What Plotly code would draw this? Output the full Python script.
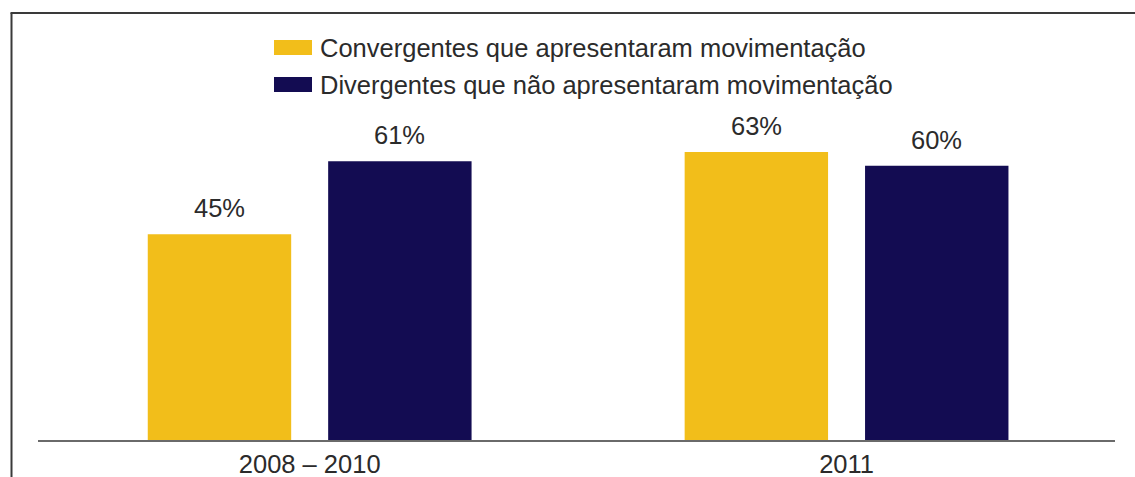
import plotly.graph_objects as go

# Data
categories = ["2008 – 2010", "2011"]
series_names = [
    "Convergentes que apresentaram movimentação",
    "Divergentes que não apresentaram movimentação",
]
convergentes = [45, 63]
divergentes = [61, 60]
colors = ["#F2BE1A", "#130C52"]

W, H = 1135, 477
M_L, M_R, M_T, M_B = 38, 20, 120, 37
PW, PH = W - M_L - M_R, H - M_T - M_B


def px_x(p):
    return (p - M_L) / PW


def px_y(p):
    return (H - M_B - p) / PH


FONT = "Liberation Sans, Arial, Helvetica, sans-serif"
TXT = "#2b2b2b"
FS = 25.5

fig = go.Figure()
for name, vals, col in zip(series_names, [convergentes, divergentes], colors):
    fig.add_trace(go.Bar(
        x=categories, y=vals, name=name, marker_color=col,
        marker_line_width=0, showlegend=False,
    ))

# value labels above the bars
offset = 0.168
annotations = []
for i, cat in enumerate(categories):
    for vals, sgn in [(convergentes, -1), (divergentes, 1)]:
        annotations.append(dict(
            x=i + sgn * offset, y=vals[i], xref="x", yref="y",
            text=f"{vals[i]}%", showarrow=False, yanchor="bottom",
            yshift=10, font=dict(family=FONT, size=FS, color=TXT),
        ))

# legend rows
shapes = []
legend_rows = [(series_names[0], colors[0], 47.5), (series_names[1], colors[1], 84.5)]
for name, col, cy in legend_rows:
    shapes.append(dict(
        type="rect", xref="paper", yref="paper",
        x0=px_x(274), x1=px_x(312), y0=px_y(cy - 7.5), y1=px_y(cy + 7.5),
        fillcolor=col, line_width=0,
    ))
    annotations.append(dict(
        x=px_x(318), y=px_y(cy), xref="paper", yref="paper",
        text=name, showarrow=False, xanchor="left", yanchor="middle",
        font=dict(family=FONT, size=FS, color=TXT),
    ))

# outer frame: left and top rules
shapes.append(dict(type="line", xref="paper", yref="paper",
                   x0=px_x(11.5), x1=px_x(11.5), y0=px_y(13), y1=px_y(480),
                   line=dict(color="#3a3a3a", width=2)))
shapes.append(dict(type="line", xref="paper", yref="paper",
                   x0=px_x(10.5), x1=px_x(1140), y0=px_y(13), y1=px_y(13),
                   line=dict(color="#3a3a3a", width=2)))

fig.update_layout(
    width=W, height=H,
    margin=dict(l=M_L, r=M_R, t=M_T, b=M_B, autoexpand=False),
    paper_bgcolor="white", plot_bgcolor="white",
    barmode="group", bargap=0.328, bargroupgap=0.205,
    font=dict(family=FONT, size=FS, color=TXT),
    xaxis=dict(
        type="category", range=[-0.506, 1.5], showgrid=False,
        showline=True, linecolor="#6a6a6a", linewidth=2,
        ticks="", automargin=False,
        tickfont=dict(family=FONT, size=FS, color=TXT),
    ),
    yaxis=dict(range=[0, 70], visible=False, showgrid=False, automargin=False),
    shapes=shapes, annotations=annotations,
)

fig.write_html("out.html")
